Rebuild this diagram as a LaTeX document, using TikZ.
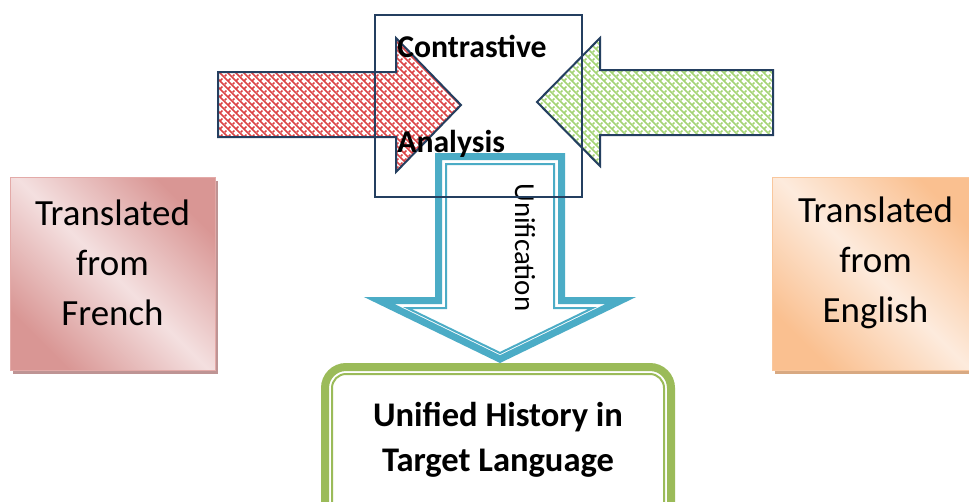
\documentclass[tikz,border=0pt]{standalone}
\usepackage{fontspec}
\setmainfont{Carlito}
\usetikzlibrary{patterns, shadows, calc}

\definecolor{frdark}{HTML}{D99694}
\definecolor{frlight}{HTML}{F4E0E0}
\definecolor{frline}{HTML}{E3AAA8}
\definecolor{frshadow}{HTML}{BE9494}
\definecolor{endark}{HTML}{FAC090}
\definecolor{enlight}{HTML}{FDEBDD}
\definecolor{enline}{HTML}{F9C79D}
\definecolor{enshadow}{HTML}{D8A982}
\definecolor{navy}{HTML}{243F60}
\definecolor{weavered}{HTML}{DC4446}
\definecolor{weavegreen}{HTML}{A4D474}
\definecolor{unifyblue}{HTML}{4BACC6}
\definecolor{unigreen}{HTML}{9BBB59}

\pgfdeclarepatternformonly{weave}{\pgfqpoint{-1pt}{-1pt}}{\pgfqpoint{7pt}{7pt}}{\pgfqpoint{6pt}{6pt}}{%
  \pgfsetlinewidth{1.2pt}
  \pgfpathmoveto{\pgfqpoint{0pt}{6pt}}\pgfpathlineto{\pgfqpoint{6pt}{0pt}}
  \pgfpathmoveto{\pgfqpoint{3pt}{3pt}}\pgfpathlineto{\pgfqpoint{4.8pt}{4.8pt}}
  \pgfpathmoveto{\pgfqpoint{0.6pt}{0.6pt}}\pgfpathlineto{\pgfqpoint{1.8pt}{1.8pt}}
  \pgfusepath{stroke}}

\begin{document}
\begin{tikzpicture}[x=0.75pt, y=-0.75pt, every node/.style={inner sep=0pt},
  srcbox/.style={draw, line width=0.75pt, minimum width=153.75pt, minimum height=144.75pt},
  frbox/.style={srcbox, draw=frline, left color=frdark, right color=frdark, middle color=frlight,
    shading angle=-45, drop shadow={shadow xshift=2.25pt, shadow yshift=-3pt, fill=frshadow, opacity=1}},
  enbox/.style={srcbox, draw=enline, left color=endark, right color=endark, middle color=enlight,
    shading angle=-45, drop shadow={shadow xshift=2.25pt, shadow yshift=-3pt, fill=enshadow, opacity=1}},
  srctext/.style={align=center, font=\fontsize{27.7pt}{37.5pt}\selectfont},
  blockarrow/.style={draw=navy, line width=1.5pt},
  catext/.style={anchor=base west, font=\fontsize{23.8pt}{28pt}\selectfont\bfseries}]
  \useasboundingbox[fill=white] (0,0) rectangle (969,501);

  % Source texts
  \node[frbox] (french) at (112.5,273.5) {};
  \node[srctext] (frtext) at (112.5,263) {Translated\\from\\French};
  \node[enbox] (english) at (874.5,273.5) {};
  \node[srctext] (entext) at (875.5,263) {Translated\\from\\English};

  % Block arrows into the analysis
  \draw[blockarrow, pattern=weave, pattern color=weavered]
    (218,72) -- (396,72) -- (396,38) -- (461,105) -- (396,172) -- (396,137) -- (218,137) -- cycle;
  \draw[blockarrow, pattern=weave, pattern color=weavegreen]
    (773,70) -- (600,70) -- (600,38) -- (537,102) -- (600,166) -- (600,135) -- (773,135) -- cycle;

  % Unification arrow
  \draw[unifyblue, line width=5.25pt]
    (438.5,156.5) -- (561.5,156.5) -- (561.5,300.5) -- (620.8,300.5) -- (500,359.1)
    -- (379.2,300.5) -- (438.5,300.5) -- cycle;
  \draw[unifyblue, line width=1.5pt]
    (446,164) -- (554,164) -- (554,308) -- (592.7,308) -- (500,353) -- (407.3,308) -- (446,308) -- cycle;
  \node[font=\fontsize{21.7pt}{26pt}\selectfont, rotate=-90] (unif) at (525,247.5) {Unification};

  % Contrastive analysis
  \node[draw=navy, line width=1.5pt, minimum width=155.25pt, minimum height=136.5pt] (ca) at (478.5,106) {};
  \node[catext] (contr) at (397,57) {Contrastive};
  \node[catext] (anal) at (397,152) {Analysis};

  % Result
  \node[draw=unigreen, line width=6pt, outer sep=0pt, rounded corners=15.75pt, minimum width=259.5pt,
    minimum height=120pt] (unified) at (498,447) {};
  \draw[unigreen, line width=1.5pt, rounded corners=10.5pt]
    ($(unified.north west)+(7,7)$) rectangle ($(unified.south east)+(-7,-7)$);
  \node[align=center, font=\fontsize{25.9pt}{33.75pt}\selectfont\bfseries] (target) at (498,440)
    {Unified History in\\Target Language};
\end{tikzpicture}
\end{document}
